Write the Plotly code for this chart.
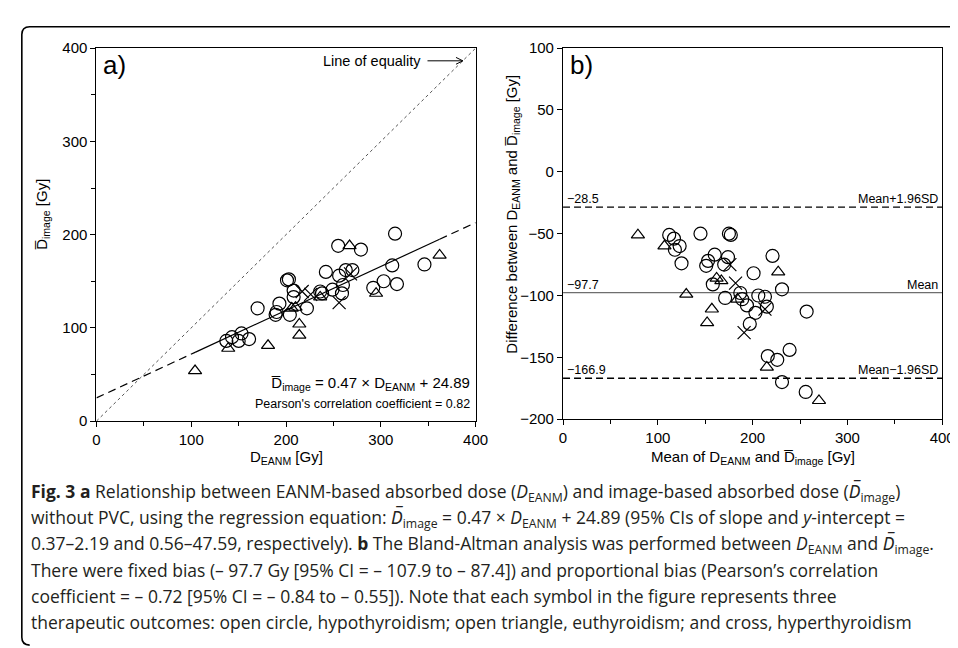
import plotly.graph_objects as go

W, H = 958, 648

# ---------------- data ----------------
# Panel a: D_EANM (x) vs mean image dose (y)
circ_a_x = [137, 143, 150, 153, 161, 170, 189, 190, 193, 204, 201, 203, 208, 208, 222, 236, 238,
            242, 249, 256, 260, 259, 263, 270, 255, 279, 292, 303, 312, 315, 317, 346]
circ_a_y = [86, 90, 86, 94, 88, 121, 114, 117, 126, 114, 151, 152, 140, 133, 121, 139, 137,
            160, 141, 156, 146, 137, 162, 162, 188, 184, 143, 150, 167, 201, 147, 168]
tri_a_x = [104, 139, 181, 214, 214, 206, 210, 236, 267, 295, 362]
tri_a_y = [54, 78, 81, 92, 104, 121, 122, 133, 188, 137, 178]
cross_a_x = [217, 226, 268, 256]
cross_a_y = [139, 136, 158, 127]

slope, intercept = 0.47, 24.89
fit_min, fit_max = 104, 362

# Panel b: Bland-Altman (mean, difference)
circ_b_x = [112, 117, 123, 118, 125, 145, 153, 151, 160, 158, 170, 174, 171, 175, 177, 187,
            189, 194, 201, 203, 206, 213, 215, 197, 221, 231, 216, 226, 239, 231, 257, 256]
circ_b_y = [-51, -54, -60, -63, -74, -50, -72, -76, -67, -91, -75, -69, -102, -50, -51, -98,
            -103, -108, -82, -114, -100, -101, -109, -123, -68, -95, -149, -152, -144, -170, -113, -178]
tri_b_x = [79, 107, 130, 152, 157, 162, 167, 184, 227, 215, 270]
tri_b_y = [-51, -60, -99, -122, -111, -86, -88, -103, -81, -158, -185]
cross_b_x = [176, 182, 213, 191]
cross_b_y = [-75, -90, -111, -130]

bias_mean, bias_upper, bias_lower = -97.7, -28.5, -166.9

tick_vals = [0, 100, 200, 300, 400]
tick_vals_b_y = [-200, -150, -100, -50, 0, 50, 100]

# ---------------- layout helpers ----------------
def px(x):
    return x / W

def py(y):
    return 1 - y / H

AX_FONT = "Liberation Sans, Arial, sans-serif"
CAP_FONT = "Open Sans, Noto Sans, sans-serif"
DBAR = "D\u0305"

fig = go.Figure()

mk_line = dict(color="black", width=1.2)

def add_points(xs, ys, symbol, size, xa, ya):
    fig.add_trace(go.Scatter(x=xs, y=ys, mode="markers", xaxis=xa, yaxis=ya,
                             marker=dict(symbol=symbol, size=size, color="black",
                                         line=mk_line),
                             showlegend=False, hoverinfo="x+y"))

# panel a lines
fig.add_trace(go.Scatter(x=[0, 400], y=[0, 400], mode="lines", xaxis="x", yaxis="y",
                         line=dict(color="#555555", width=1, dash="dot"), showlegend=False))
fig.add_trace(go.Scatter(x=[0, fit_min], y=[intercept, slope * fit_min + intercept], mode="lines",
                         xaxis="x", yaxis="y", line=dict(color="black", width=1.2, dash="8px,5px"),
                         showlegend=False))
fig.add_trace(go.Scatter(x=[fit_min, fit_max], y=[slope * fit_min + intercept, slope * fit_max + intercept],
                         mode="lines", xaxis="x", yaxis="y", line=dict(color="black", width=1.2),
                         showlegend=False))
fig.add_trace(go.Scatter(x=[fit_max, 400], y=[slope * fit_max + intercept, slope * 400 + intercept],
                         mode="lines", xaxis="x", yaxis="y",
                         line=dict(color="black", width=1.2, dash="8px,5px"), showlegend=False))

add_points(circ_a_x, circ_a_y, "circle-open", 13, "x", "y")
add_points(tri_a_x, tri_a_y, "triangle-up-open", 11.5, "x", "y")
add_points(cross_a_x, cross_a_y, "x-thin-open", 13, "x", "y")

# panel b lines
for val, dash, col in [(bias_upper, "7px,4px", "black"), (bias_mean, "solid", "#6e6e6e"),
                       (bias_lower, "7px,4px", "black")]:
    fig.add_trace(go.Scatter(x=[0, 400], y=[val, val], mode="lines", xaxis="x2", yaxis="y2",
                             line=dict(color=col, width=1.3, dash=dash), showlegend=False))

add_points(circ_b_x, circ_b_y, "circle-open", 13, "x2", "y2")
add_points(tri_b_x, tri_b_y, "triangle-up-open", 11.5, "x2", "y2")
add_points(cross_b_x, cross_b_y, "x-thin-open", 13, "x2", "y2")

axis_common = dict(showgrid=False, zeroline=False, showline=True, linecolor="black", linewidth=1.2,
                   mirror=True, ticks="outside", ticklen=5, tickwidth=1, tickcolor="black",
                   tickfont=dict(family=AX_FONT, size=15, color="black"))

fig.update_layout(
    width=W, height=H, margin=dict(l=0, r=0, t=0, b=0),
    paper_bgcolor="white", plot_bgcolor="white",
    xaxis=dict(domain=[px(86), px(472)], range=[0, 400], tickvals=tick_vals,
               minor=dict(ticks="outside", dtick=50, ticklen=4, tickcolor="black"),
               anchor="y", **axis_common),
    yaxis=dict(domain=[py(415), py(32)], range=[0, 400], tickvals=tick_vals,
               minor=dict(ticks="outside", dtick=50, ticklen=4, tickcolor="black"),
               anchor="x", **axis_common),
    xaxis2=dict(domain=[px(561), px(947)], range=[0, 400], tickvals=tick_vals,
                minor=dict(ticks="outside", dtick=50, ticklen=4, tickcolor="black"),
                anchor="y2", **axis_common),
    yaxis2=dict(domain=[py(413), py(32)], range=[-200, 100], tickvals=tick_vals_b_y,
                anchor="x2", **axis_common),
)

ann = []
def A(**kw):
    base = dict(showarrow=False, font=dict(family=AX_FONT, size=15, color="black"))
    base.update(kw)
    ann.append(base)

# panel labels
A(text="a)", xref="paper", yref="paper", x=px(91), y=py(49), xanchor="left", yanchor="middle",
  font=dict(family=AX_FONT, size=26, color="black"))
A(text="b)", xref="paper", yref="paper", x=px(566), y=py(49), xanchor="left", yanchor="middle",
  font=dict(family=AX_FONT, size=26, color="black"))

# line of equality label
A(text="Line of equality", xref="paper", yref="paper", x=px(418), y=py(45), xanchor="right",
  yanchor="middle", font=dict(family=AX_FONT, size=14.5, color="black"))

# regression annotation
A(text=f"{DBAR}<sub>image</sub> = {slope} \u00d7 D<sub>EANM</sub> + {intercept}", xref="paper", yref="paper",
  x=px(468), y=py(376), xanchor="right", yanchor="middle",
  font=dict(family=AX_FONT, size=15, color="black"))
A(text="Pearson's correlation coefficient = 0.82", xref="paper", yref="paper",
  x=px(468), y=py(397), xanchor="right", yanchor="middle",
  font=dict(family=AX_FONT, size=12.5, color="black"))

# Bland-Altman line labels
for val, lab in [(bias_upper, "Mean+1.96SD"), (bias_mean, "Mean"), (bias_lower, "Mean\u22121.96SD")]:
    A(text=f"\u2212{abs(val)}", xref="x2", yref="y2", x=2, y=val, xanchor="left", yanchor="bottom",
      yshift=-1, font=dict(family=AX_FONT, size=12.5, color="black"))
    A(text=lab, xref="x2", yref="y2", x=398, y=val, xanchor="right", yanchor="bottom",
      yshift=-1, font=dict(family=AX_FONT, size=12.5, color="black"))

# axis titles
A(text="D<sub>EANM</sub> [Gy]", xref="paper", yref="paper", x=px(279), y=py(452),
  xanchor="center", yanchor="middle")
A(text=f"{DBAR}<sub>image</sub> [Gy]", xref="paper", yref="paper", x=px(31), y=py(203),
  xanchor="center", yanchor="middle", textangle=-90)
A(text=f"Mean of D<sub>EANM</sub> and {DBAR}<sub>image</sub> [Gy]", xref="paper", yref="paper",
  x=px(754), y=py(452), xanchor="center", yanchor="middle")
A(text=f"Difference between D<sub>EANM</sub> and {DBAR}<sub>image</sub> [Gy]", xref="paper", yref="paper",
  x=px(510), y=py(202), xanchor="center", yanchor="middle", textangle=-90)

# caption
IDBAR = f"<i>{DBAR}</i>"
caption_lines = [
    "<b>Fig. 3 a</b> Relationship between EANM-based absorbed dose (<i>D</i><sub>EANM</sub>) and image-based absorbed dose (" + IDBAR + "<sub>image</sub>)",
    "without PVC, using the regression equation: " + IDBAR + "<sub>image</sub> = 0.47 \u00d7 <i>D</i><sub>EANM</sub> + 24.89 (95% CIs of slope and <i>y</i>-intercept =",
    "0.37\u20132.19 and 0.56\u201347.59, respectively). <b>b</b> The Bland-Altman analysis was performed between <i>D</i><sub>EANM</sub> and " + IDBAR + "<sub>image</sub>.",
    "There were fixed bias (\u2013 97.7 Gy [95% CI = \u2013 107.9 to \u2013 87.4]) and proportional bias (Pearson\u2019s correlation",
    "coefficient = \u2013 0.72 [95% CI = \u2013 0.84 to \u2013 0.55]). Note that each symbol in the figure represents three",
    "therapeutic outcomes: open circle, hypothyroidism; open triangle, euthyroidism; and cross, hyperthyroidism",
]
cap_y = [488, 514.6, 541.2, 567.8, 594.4, 621]
for t, yy in zip(caption_lines, cap_y):
    A(text=t, xref="paper", yref="paper", x=px(17), y=py(yy), xanchor="left", yanchor="middle",
      font=dict(family=CAP_FONT, size=17.5, color="#231f20"))

fig.update_layout(annotations=ann)

# outer frame (rounded top-left and bottom-left corners) and the equality arrow
frame = (f"M {px(958)},{py(10)} L {px(18)},{py(10)} Q {px(10)},{py(10)} {px(10)},{py(18)} "
         f"L {px(10)},{py(637)} Q {px(10)},{py(645)} {px(18)},{py(645)}")
arrow_line = f"M {px(423)},{py(45)} L {px(459)},{py(45)}"
arrow_head = f"M {px(452)},{py(41.5)} L {px(459)},{py(45)} L {px(452)},{py(48.5)}"
fig.update_layout(shapes=[
    dict(type="path", path=frame, xref="paper", yref="paper", line=dict(color="black", width=1.6)),
    dict(type="path", path=arrow_line, xref="paper", yref="paper", line=dict(color="black", width=1)),
    dict(type="path", path=arrow_head, xref="paper", yref="paper", line=dict(color="black", width=1)),
])

fig.write_html("out.html")
